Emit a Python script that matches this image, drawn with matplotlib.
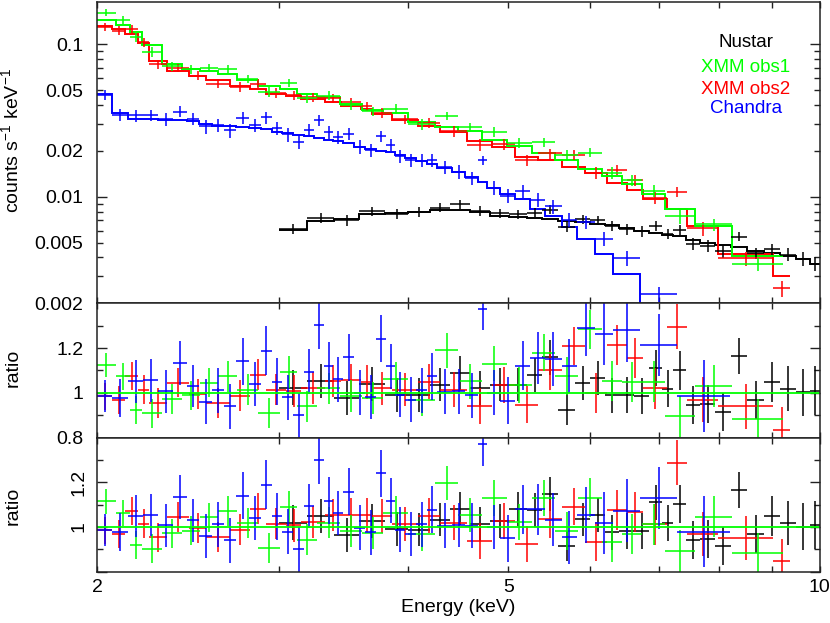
import numpy as np
import matplotlib
matplotlib.use("Agg")
import matplotlib.pyplot as plt
from matplotlib.ticker import FixedLocator, FixedFormatter, NullFormatter

plt.rcParams['font.family'] = ['Liberation Sans', 'DejaVu Sans']
plt.rcParams['mathtext.fontset'] = 'custom'
plt.rcParams['mathtext.rm'] = 'Liberation Sans'
plt.rcParams['mathtext.default'] = 'regular'

# ---------------- data (energies in keV) ----------------
labels = ['Nustar', 'XMM obs1', 'XMM obs2', 'Chandra']
colors = ['#000000', '#00ff00', '#ff0000', '#0000ff']

nustar_edges = [3.0, 3.193, 3.391, 3.585, 3.799, 4.0, 4.2, 4.391, 4.591, 4.8, 5.007,
                5.212, 5.389, 5.585, 5.8, 5.998, 6.201, 6.398, 6.615, 6.84, 7.041,
                7.216, 7.428, 7.663, 7.923, 8.211, 8.509, 8.837, 9.158, 9.49, 9.791, 10.0]
nustar_model = [0.00605, 0.0069, 0.00716, 0.0077, 0.0078, 0.0080, 0.0082, 0.0082, 0.0079, 0.0075,
                0.0074, 0.0073, 0.0071, 0.0069, 0.0068, 0.0066, 0.0065, 0.0062, 0.0060, 0.0058,
                0.0056, 0.0055, 0.0052, 0.0050, 0.0048, 0.0047, 0.0044, 0.0043, 0.0041, 0.0039,
                0.0036]
nustar_ratio1 = [1.022, 1.052, 0.978, 1.04, 0.992, 0.992, 1.037, 1.089, 1.022, 1.037,
                 1.037, 1.08, 1.159, 0.925, 1.045, 1.067, 0.99, 0.992, 0.987, 1.112,
                 1.019, 1.10, 0.945, 0.95, 0.914, 1.163, 0.968, 1.05, 1.018, 1.002, 1.01]
nustar_ratio2 = [1.02, 1.05, 0.964, 1.028, 0.991, 0.988, 1.033, 1.083, 1.013, 1.028,
                 1.08, 1.077, 1.148, 0.916, 1.034, 1.054, 0.976, 0.983, 0.983, 1.11,
                 1.018, 1.103, 0.943, 0.946, 0.914, 1.165, 0.968, 1.05, 1.018, 1.002, 1.01]
nustar_err = [0.078, 0.075, 0.075, 0.075, 0.075, 0.075, 0.075, 0.075, 0.075, 0.075,
              0.075, 0.075, 0.078, 0.068, 0.075, 0.075, 0.078, 0.08, 0.08, 0.08,
              0.082, 0.085, 0.085, 0.085, 0.085, 0.08, 0.085, 0.09, 0.1, 0.105, 0.108]

xmm1_edges = [2.0, 2.085, 2.151, 2.209, 2.31, 2.415, 2.516, 2.62, 2.73, 2.865, 3.007,
              3.121, 3.263, 3.437, 3.607, 3.785, 4.0, 4.247, 4.473, 4.712, 4.982,
              5.267, 5.548, 5.843, 6.156, 6.437, 6.73, 7.088, 7.578, 8.224, 9.226]
xmm1_model = [0.144, 0.135, 0.1205, 0.0985, 0.074, 0.0692, 0.067, 0.064, 0.0586, 0.0537,
              0.0512, 0.0474, 0.0452, 0.0407, 0.0372, 0.0355, 0.0308, 0.0286, 0.0272, 0.0236,
              0.0217, 0.0193, 0.0174, 0.0152, 0.0137, 0.0122, 0.0104, 0.0083, 0.0064, 0.0041]
xmm1_ratio1 = [1.124, 1.074, 0.925, 0.91, 0.973, 0.99, 1.045, 1.074, 1.015, 0.91,
               1.094, 0.94, 1.02, 0.985, 0.978, 1.063, 0.97, 1.19, 1.052, 1.131,
               1.037, 1.18, 1.074, 1.283, 1.052, 1.05, 1.05, 0.895, 1.03, 0.884]
xmm1_ratio2 = [1.115, 1.063, 0.918, 0.903, 0.973, 0.983, 1.043, 1.073, 1.018, 0.906,
               1.092, 0.943, 1.02, 0.983, 0.975, 1.065, 0.969, 1.197, 1.054, 1.13,
               1.024, 1.13, 0.983, 1.132, 0.934, 0.969, 1.013, 0.894, 1.047, 0.884]
xmm1_err = [0.055, 0.06, 0.063, 0.065, 0.065, 0.065, 0.065, 0.068, 0.068, 0.068,
            0.07, 0.07, 0.07, 0.072, 0.072, 0.075, 0.075, 0.078, 0.078, 0.08,
            0.08, 0.082, 0.085, 0.088, 0.09, 0.09, 0.092, 0.093, 0.093, 0.09]

xmm2_edges = [2.0, 2.068, 2.129, 2.191, 2.246, 2.338, 2.455, 2.55, 2.69, 2.812, 2.914,
              3.047, 3.151, 3.324, 3.444, 3.604, 3.69, 3.859, 4.089, 4.294, 4.56,
              4.821, 5.075, 5.342, 5.633, 5.931, 6.229, 6.513, 6.749, 7.12, 7.444,
              7.976, 9.016, 9.365]
xmm2_model = [0.133, 0.127, 0.118, 0.102, 0.078, 0.0674, 0.0625, 0.058, 0.0535, 0.0512,
              0.0474, 0.046, 0.044, 0.042, 0.0395, 0.0375, 0.035, 0.0318, 0.0293, 0.0265,
              0.0234, 0.0213, 0.0183, 0.0175, 0.0156, 0.0144, 0.0124, 0.0111, 0.0097, 0.0083,
              0.0064, 0.0042, 0.0030]
xmm2_ratio1 = [0.985, 0.97, 1.074, 1.015, 0.955, 1.045, 0.996, 0.955, 0.988, 1.082,
               1.015, 1.007, 1.022, 1.052, 1.056, 1.049, 1.02, 1.015, 1.049, 1.015,
               0.94, 1.037, 0.948, 1.10, 1.21, 1.0, 1.213, 1.157, 1.02, 1.295,
               0.97, 0.94, 0.836]
xmm2_ratio2 = [0.985, 0.97, 1.07, 1.015, 0.955, 1.045, 0.996, 0.955, 0.988, 1.082,
               1.015, 1.007, 1.022, 1.054, 1.054, 1.054, 1.05, 1.013, 1.05, 1.02,
               0.939, 1.028, 0.924, 1.034, 1.092, 0.934, 1.077, 1.068, 1.013, 1.289,
               0.969, 0.951, 0.846]
xmm2_err = [0.06, 0.063, 0.063, 0.065, 0.065, 0.065, 0.068, 0.068, 0.07, 0.07,
            0.07, 0.072, 0.072, 0.072, 0.075, 0.075, 0.075, 0.075, 0.078, 0.078,
            0.08, 0.08, 0.082, 0.085, 0.085, 0.088, 0.09, 0.09, 0.092, 0.1,
            0.1, 0.1, 0.1]

chandra_edges = [2.0, 2.069, 2.144, 2.216, 2.291, 2.369, 2.444, 2.51, 2.584, 2.654,
                 2.726, 2.806, 2.882, 2.952, 3.02, 3.095, 3.172, 3.243, 3.316, 3.383,
                 3.46, 3.545, 3.633, 3.724, 3.807, 3.885, 3.972, 4.071, 4.172, 4.266,
                 4.41, 4.54, 4.673, 4.768, 4.908, 5.075, 5.247, 5.425, 5.631, 5.822,
                 6.065, 6.317, 6.704, 7.275, 8.193]
chandra_model = [0.0474, 0.0353, 0.0325, 0.0325, 0.0321, 0.032, 0.0316, 0.0302, 0.0293, 0.0291,
                 0.0289, 0.0284, 0.0279, 0.0268, 0.0262, 0.0256, 0.0251, 0.0245, 0.0237, 0.0233,
                 0.0224, 0.0213, 0.0206, 0.0201, 0.0196, 0.0187, 0.0179, 0.0171, 0.0163, 0.0155,
                 0.0145, 0.0134, 0.0126, 0.0115, 0.0105, 0.0097, 0.0083, 0.0075, 0.0063, 0.0053,
                 0.0042, 0.0031, 0.0019, 0.0012]
chandra_ratio1 = [0.985, 0.978, 1.052, 1.056, 1.007, 1.134, 1.03, 0.96, 1.012, 0.94,
                  1.141, 1.04, 1.189, 1.049, 0.98, 0.90, 1.094, 1.302, 1.122, 1.06,
                  1.159, 1.0, 0.982, 1.241, 1.119, 0.992, 0.97, 1.012, 1.074, 1.006,
                  1.007, 0.99, 1.376, 1.0, 0.966, 1.122, 1.155, 1.153, 1.119, 1.29,
                  1.265, 1.28, 1.213, 0.985]
chandra_ratio2 = [0.985, 0.978, 1.05, 1.055, 1.007, 1.134, 1.03, 0.96, 1.012, 0.94,
                  1.141, 1.04, 1.189, 1.049, 0.98, 0.90, 1.094, 1.302, 1.118, 1.063,
                  1.159, 0.998, 0.976, 1.241, 1.118, 0.988, 0.969, 1.012, 1.077, 1.006,
                  1.009, 1.006, 1.371, 1.0, 0.949, 1.08, 1.08, 1.033, 0.954, 1.054,
                  1.018, 1.073, 1.13, 0.979]
chandra_err = [0.072, 0.085, 0.095, 0.095, 0.095, 0.097, 0.095, 0.1, 0.1, 0.1,
               0.104, 0.1, 0.11, 0.105, 0.1, 0.1, 0.1, 0.108, 0.105, 0.1,
               0.105, 0.1, 0.1, 0.105, 0.1, 0.1, 0.1, 0.1, 0.105, 0.1,
               0.1, 0.1, 0.097, 0.1, 0.105, 0.11, 0.115, 0.12, 0.12, 0.125,
               0.14, 0.14, 0.138, 0.16]

datasets = [
    (nustar_edges, nustar_model, nustar_ratio1, nustar_ratio2, nustar_err, colors[0]),
    (xmm2_edges, xmm2_model, xmm2_ratio1, xmm2_ratio2, xmm2_err, colors[2]),
    (xmm1_edges, xmm1_model, xmm1_ratio1, xmm1_ratio2, xmm1_err, colors[1]),
    (chandra_edges, chandra_model, chandra_ratio1, chandra_ratio2, chandra_err, colors[3]),
]

# ---------------- figure ----------------
fig = plt.figure(figsize=(8.3, 6.23), dpi=100)
L, W = 0.1169, 0.8705
ax1 = fig.add_axes([L, 0.5132, W, 0.4836])
ax2 = fig.add_axes([L, 0.2974, W, 0.2158])
ax3 = fig.add_axes([L, 0.0823, W, 0.2151])

lw_err = 1.1
for edges, model, r1, r2, err, c in datasets:
    e = np.array(edges)
    lo, hi = e[:-1], e[1:]
    cen = 0.5 * (lo + hi)
    xerr = [cen - lo, hi - cen]
    m = np.array(model)
    r1 = np.array(r1); r2 = np.array(r2); er = np.array(err)
    ax1.stairs(m, e, color=c, lw=1.4, baseline=None)
    ax1.errorbar(cen, m * r1, xerr=xerr, yerr=m * er, fmt='none', ecolor=c,
                 elinewidth=lw_err, capsize=0)
    ax2.errorbar(cen, r1, xerr=xerr, yerr=er, fmt='none', ecolor=c,
                 elinewidth=lw_err, capsize=0)
    ax3.errorbar(cen, r2, xerr=xerr, yerr=er, fmt='none', ecolor=c,
                 elinewidth=lw_err, capsize=0)

for ax in (ax2, ax3):
    ax.axhline(1.0, color=colors[1], lw=1.3)

fs = 14
for ax in (ax1, ax2, ax3):
    ax.set_xscale('log')
    ax.set_xlim(2, 10)
    ax.xaxis.set_major_locator(FixedLocator([2, 5, 10]))
    ax.xaxis.set_minor_locator(FixedLocator([3, 4, 6, 7, 8, 9]))
    ax.xaxis.set_minor_formatter(NullFormatter())
    ax.tick_params(which='both', direction='in', top=True, right=True,
                   labelsize=fs, width=1.0, color='#222222')
    ax.tick_params(axis='x', which='both', length=4.5, pad=5)
    ax.tick_params(axis='y', which='major', length=7, pad=10)
    ax.tick_params(axis='y', which='minor', length=4, pad=10)
    for s in ax.spines.values():
        s.set_linewidth(1.1)
        s.set_color('#222222')

for ax in (ax1, ax2):
    ax.xaxis.set_major_formatter(NullFormatter())
ax3.xaxis.set_major_formatter(FixedFormatter(['2', '5', '10']))

# top panel y axis
ax1.set_yscale('log')
ax1.set_ylim(0.002, 0.19)
ax1.yaxis.set_major_locator(FixedLocator([0.01, 0.1]))
ax1.yaxis.set_major_formatter(FixedFormatter(['0.01', '0.1']))
minor_locs = [0.002, 0.003, 0.004, 0.005, 0.006, 0.007, 0.008, 0.009,
              0.02, 0.03, 0.04, 0.05, 0.06, 0.07, 0.08, 0.09]
minor_labs = ['0.002', '', '', '0.005', '', '', '', '',
              '0.02', '', '', '0.05', '', '', '', '']
ax1.yaxis.set_minor_locator(FixedLocator(minor_locs))
ax1.yaxis.set_minor_formatter(FixedFormatter(minor_labs))
ax1.set_ylabel('counts s$^{-1}$ keV$^{-1}$', fontsize=fs)
ax1.yaxis.set_label_coords(-0.104, 0.54)

# ratio panels
for ax in (ax2, ax3):
    ax.set_ylim(0.8, 1.4)
    ax.yaxis.set_minor_locator(FixedLocator([0.9, 1.1, 1.3]))
    ax.yaxis.set_minor_formatter(NullFormatter())
    ax.set_ylabel('ratio', fontsize=fs)
ax2.yaxis.set_major_locator(FixedLocator([0.8, 1.0, 1.2]))
ax2.yaxis.set_major_formatter(FixedFormatter(['0.8', '1', '1.2']))
ax2.yaxis.set_label_coords(-0.104, 0.52)
ax3.yaxis.set_major_locator(FixedLocator([0.8, 1.0, 1.2]))
ax3.yaxis.set_major_formatter(FixedFormatter(['', '1', '1.2']))
for t in ax3.get_yticklabels():
    t.set_rotation(90)
    t.set_va('center')
ax3.tick_params(axis='y', which='major', pad=7)
ax3.yaxis.set_label_coords(-0.104, 0.49)

ax3.set_xlabel('Energy (keV)', fontsize=fs)
ax3.xaxis.set_label_coords(0.5, -0.2)

# legend texts
ytext = [0.864, 0.784, 0.711, 0.645]
for lab, c, yy in zip(labels, colors, ytext):
    ax1.text(0.898, yy, lab, color=c, fontsize=13.5, ha='center', va='center',
             transform=ax1.transAxes)

fig.savefig('out.png', dpi=100)
